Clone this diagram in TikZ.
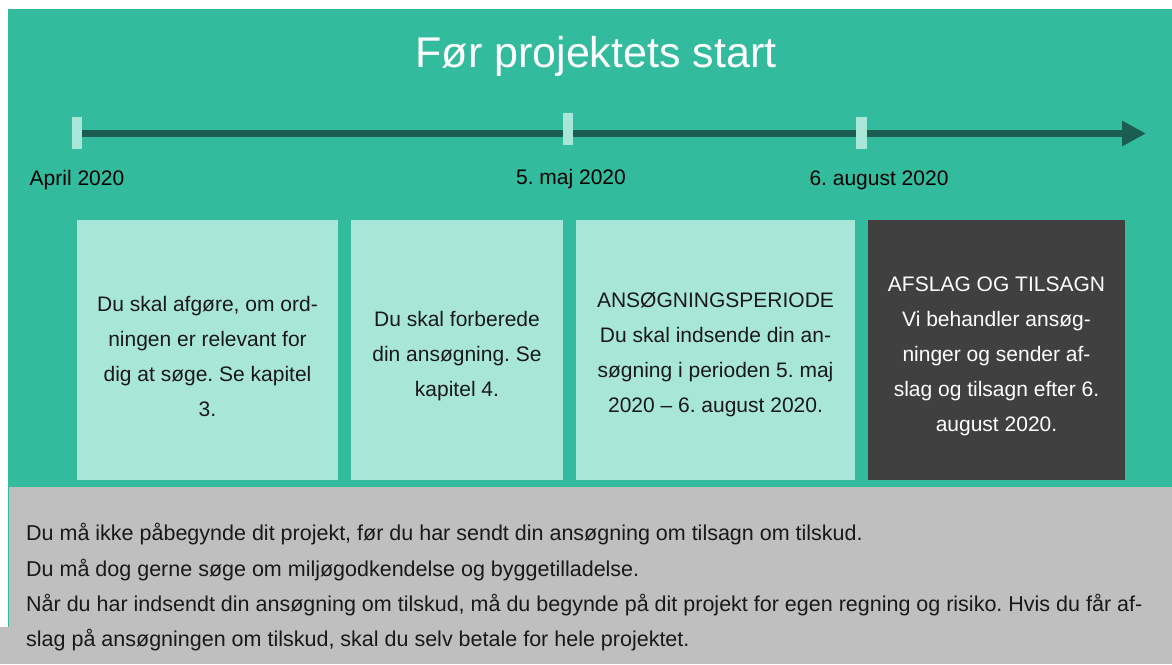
\documentclass[tikz,border=0pt]{standalone}
\usepackage{fontspec}
\setmainfont{Liberation Sans}
\frenchspacing
\usetikzlibrary{arrows.meta}
\definecolor{bggreen}{RGB}{51,187,157}
\definecolor{lightgreen}{RGB}{168,231,216}
\definecolor{darkbox}{RGB}{64,64,64}
\definecolor{linegreen}{RGB}{27,94,81}
\definecolor{graybg}{RGB}{191,191,191}
\pgfdeclarelayer{bg}
\pgfdeclarelayer{tl}
\pgfsetlayers{bg,tl,main}
\tikzset{
  marker/.style={fill=lightgreen, draw=none, inner sep=0pt, minimum height=32pt},
  datelabel/.style={anchor=base, inner sep=0pt, font=\fontsize{21}{25}\selectfont, text=black},
  infobox/.style={draw=none, inner sep=0pt, minimum height=260pt},
  lightbox/.style={infobox, fill=lightgreen},
  darkbx/.style={infobox, fill=darkbox},
  boxtext/.style={inner sep=0pt, align=center, font=\fontsize{21}{35}\selectfont\frenchspacing},
  noteline/.style={anchor=base west, inner sep=0pt, font=\fontsize{21.5}{25}\selectfont\frenchspacing, text=black!90},
  timeline/.style={draw=linegreen, line width=7pt, -{Triangle[length=24pt,width=24pt]}}
}
\begin{document}
\begin{tikzpicture}[x=1pt,y=-1pt]
\useasboundingbox (0,0) rectangle (1172,664);
\begin{pgfonlayer}{bg}
  \fill[white] (0,0) rectangle (1172,664);
  \fill[bggreen] (8,9) rectangle (1172,487);
  \fill[graybg] (9,487) rectangle (1172,664);
  \fill[graybg] (0,627) rectangle (9,664);
  \fill[bggreen] (8,487) rectangle (9,627);
\end{pgfonlayer}

\node[anchor=base, inner sep=0pt, text=white, font=\fontsize{43}{50}\selectfont] (title) at (596,67) {Før projektets start};

\node[marker, minimum width=10pt] (m1) at (77,133) {};
\node[marker, minimum width=10pt] (m2) at (568,129) {};
\node[marker, minimum width=11pt] (m3) at (861.5,133) {};
\coordinate (tend) at (1146,133.5);
\begin{pgfonlayer}{tl}
  \draw[timeline] (m1.east |- tend) -- (tend);
\end{pgfonlayer}

\node[datelabel] (d1) at (77,185) {April 2020};
\node[datelabel] (d2) at (571,184) {5. maj 2020};
\node[datelabel] (d3) at (879,185) {6. august 2020};

\node[lightbox, minimum width=261pt] (b1) at (207.5,350) {};
\node[lightbox, minimum width=212pt] (b2) at (457,350) {};
\node[lightbox, minimum width=279pt] (b3) at (715.5,350) {};
\node[darkbx, minimum width=257pt] (b4) at (996.5,350) {};

\node[boxtext, text=black!90] (t1) at ([yshift=-6pt]b1.center)
  {Du skal afgøre, om ord-\\ningen er relevant for\\dig at søge. Se kapitel\\3.};
\node[boxtext, text=black!90] (t2) at ([yshift=-6pt]b2.center)
  {Du skal forberede\\din ansøgning. Se\\kapitel 4.};
\node[boxtext, text=black!90] (t3) at ([yshift=-5pt]b3.center)
  {ANSØGNINGSPERIODE\\Du skal indsende din an-\\søgning i perioden 5. maj\\2020 – 6. august 2020.};
\node[boxtext, text=white] (t4) at ([yshift=-6pt]b4.center)
  {AFSLAG OG TILSAGN\\Vi behandler ansøg-\\ninger og sender af-\\slag og tilsagn efter 6.\\august 2020.};

\node[noteline] (n1) at (26,540) {Du må ikke påbegynde dit projekt, før du har sendt din ansøgning om tilsagn om tilskud.};
\node[noteline] (n2) at (26,576) {Du må dog gerne søge om miljøgodkendelse og byggetilladelse.};
\node[noteline] (n3) at (26,611) {Når du har indsendt din ansøgning om tilskud, må du begynde på dit projekt for egen regning og risiko. Hvis du får af-};
\node[noteline] (n4) at (26,646) {slag på ansøgningen om tilskud, skal du selv betale for hele projektet.};
\end{tikzpicture}
\end{document}
